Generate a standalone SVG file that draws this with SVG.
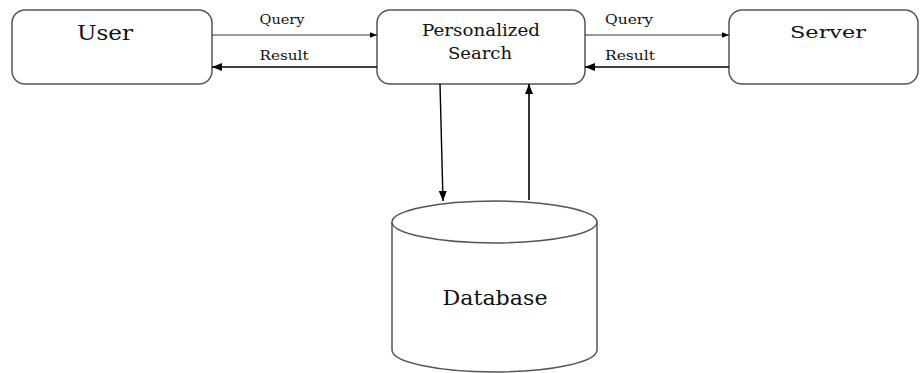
<svg xmlns="http://www.w3.org/2000/svg" width="920" height="373" viewBox="0 0 920 373">
<defs>
<marker id="ah" viewBox="0 0 10 10" refX="10" refY="5" markerWidth="7" markerHeight="7" orient="auto" markerUnits="userSpaceOnUse">
<path d="M0,1 L10,5 L0,9 z" fill="#000"/>
</marker>
<marker id="ahb" viewBox="0 0 10 10" refX="10" refY="5" markerWidth="10" markerHeight="10" orient="auto" markerUnits="userSpaceOnUse">
<path d="M0,1 L10,5 L0,9 z" fill="#000"/>
</marker>
</defs>
<style>
.box{fill:#fff;stroke:#555;stroke-width:1.5}
text{font-family:"DejaVu Serif","Liberation Serif",serif;fill:#111}
.big{font-size:20px}
.mid{font-size:16px}
.sm{font-size:12px}
.ln{stroke:#000;fill:none}
</style>
<rect width="920" height="373" fill="#fff"/>
<g id="user">
<rect class="box" x="12" y="10" width="200" height="74" rx="13"/>
<text class="big" x="105" y="40" text-anchor="middle" textLength="56" lengthAdjust="spacingAndGlyphs">User</text>
</g>
<g id="personalized-search">
<rect class="box" x="377" y="10" width="208" height="74" rx="13"/>
<text class="mid" x="481" y="36" text-anchor="middle" textLength="118" lengthAdjust="spacingAndGlyphs">Personalized</text>
<text class="mid" x="480" y="59" text-anchor="middle" textLength="64" lengthAdjust="spacingAndGlyphs">Search</text>
</g>
<g id="server">
<rect class="box" x="729" y="10" width="189" height="74" rx="13"/>
<text class="mid" x="828" y="38" text-anchor="middle" textLength="76" lengthAdjust="spacingAndGlyphs">Server</text>
</g>
<g id="database">
<path class="box" d="M392,222 L392,350 A102.5,22 0 0 0 597,350 L597,222"/>
<ellipse class="box" cx="494.5" cy="222" rx="102.5" ry="21"/>
<text class="big" x="495" y="305" text-anchor="middle" textLength="105" lengthAdjust="spacingAndGlyphs">Database</text>
</g>
<g id="connectors">
<line class="ln" x1="212" y1="35" x2="377" y2="35" stroke-width="0.8" marker-end="url(#ah)"/>
<text class="sm" x="282" y="24" text-anchor="middle" textLength="45" lengthAdjust="spacingAndGlyphs">Query</text>
<line class="ln" x1="377" y1="67" x2="212" y2="67" stroke-width="1.4" marker-end="url(#ahb)"/>
<text class="sm" x="284" y="60" text-anchor="middle" textLength="49" lengthAdjust="spacingAndGlyphs">Result</text>
<line class="ln" x1="585" y1="35" x2="729" y2="35" stroke-width="0.8" marker-end="url(#ah)"/>
<text class="sm" x="629" y="24" text-anchor="middle" textLength="48" lengthAdjust="spacingAndGlyphs">Query</text>
<line class="ln" x1="729" y1="67" x2="585" y2="67" stroke-width="1.4" marker-end="url(#ahb)"/>
<text class="sm" x="630" y="60" text-anchor="middle" textLength="50" lengthAdjust="spacingAndGlyphs">Result</text>
<line class="ln" x1="440" y1="84" x2="443" y2="201" stroke-width="1.4" marker-end="url(#ahb)"/>
<line class="ln" x1="529" y1="200" x2="529" y2="84" stroke-width="1.6" marker-end="url(#ahb)"/>
</g>
</svg>
